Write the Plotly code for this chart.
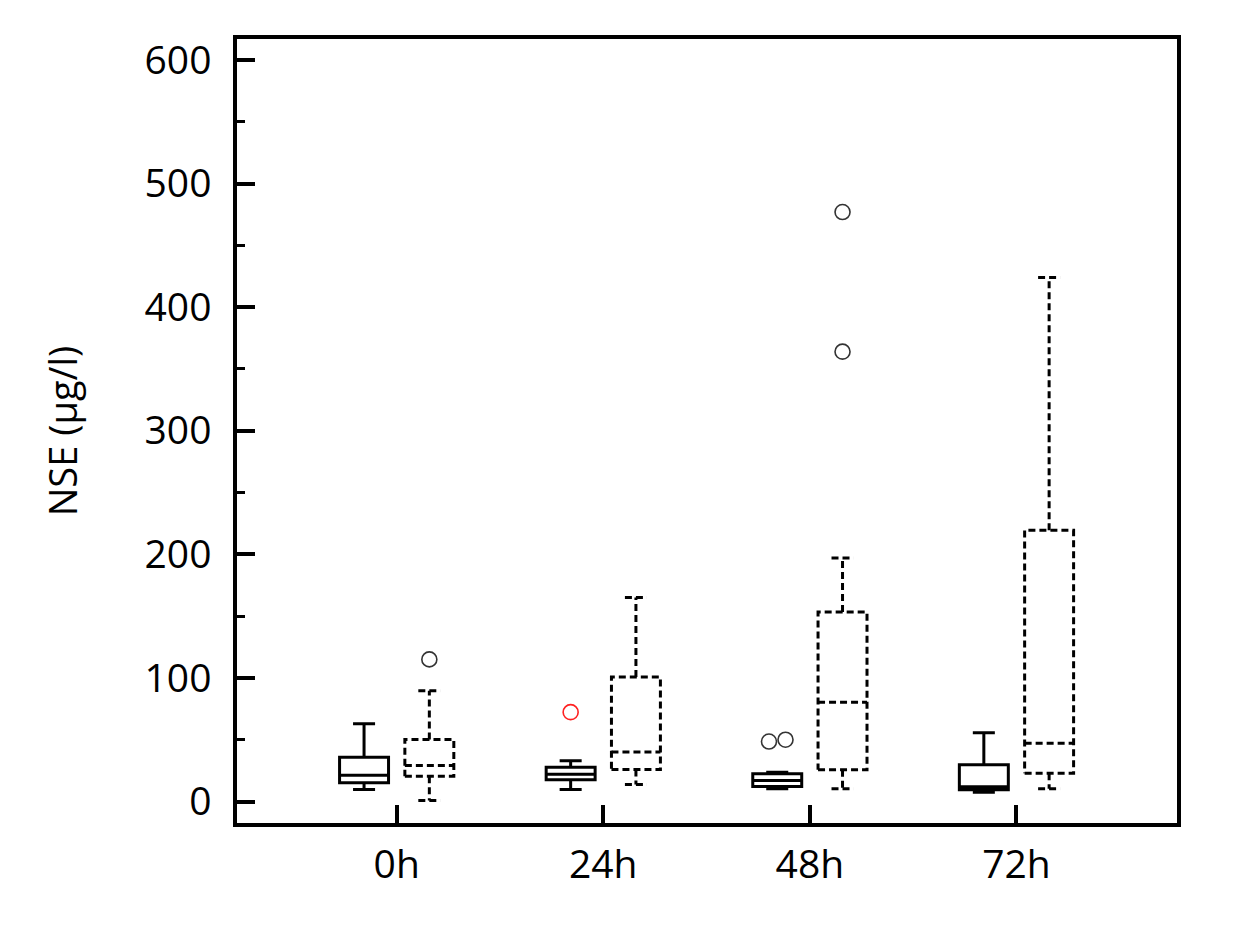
import plotly.graph_objects as go

categories = ["0h", "24h", "48h", "72h"]

# Group A (solid boxes)
a_lower = [9.7, 9.7, 10.3, 7.5]
a_q1 = [15.1, 17.6, 12.1, 9.5]
a_median = [21.3, 22.0, 17.0, 12.0]
a_q3 = [35.9, 27.8, 22.4, 29.7]
a_upper = [62.9, 33.0, 23.7, 55.6]

# Group B (dashed boxes)
b_lower = [0.8, 13.8, 10.3, 10.3]
b_q1 = [20.5, 25.9, 25.7, 22.9]
b_median = [29.1, 40.0, 80.4, 47.2]
b_q3 = [50.2, 100.7, 153.3, 219.4]
b_upper = [89.6, 165.0, 197.0, 424.0]

# Outliers: category index and value
a_out_cat = [1, 2, 2]
a_out_val = [72.3, 48.5, 50.0]
b_out_cat = [0, 2, 2]
b_out_val = [115.0, 477.0, 364.0]

# ---- styling / geometry ----
OFF = 0.158          # box offset from category centre
BW = 0.237           # box width (data units)
WW = 0.45            # whisker cap width fraction
a_out_shift = [0.0, -0.04, 0.04]
a_out_colors = ["#ff2020", "#333333", "#333333"]
FONT = "Open Sans"

idx = list(range(len(categories)))
a_pos = [i - OFF for i in idx]
b_pos = [i + OFF for i in idx]

fig = go.Figure()

# solid boxes
fig.add_trace(go.Box(
    x=a_pos, q1=a_q1, median=a_median, q3=a_q3,
    lowerfence=a_lower, upperfence=a_upper,
    width=BW, whiskerwidth=WW, boxpoints=False,
    line=dict(color="black", width=3), fillcolor="rgba(255,255,255,0)",
    hoverinfo="skip", showlegend=False,
))

# dashed boxes (drawn as dashed line paths built from the stats)
xs, ys = [], []
hw = BW / 2
cw = hw * WW
for p, lo, q1, md, q3, up in zip(b_pos, b_lower, b_q1, b_median, b_q3, b_upper):
    xs += [p - hw, p + hw, p + hw, p - hw, p - hw, None]
    ys += [q1, q1, q3, q3, q1, None]
    xs += [p - hw, p + hw, None]
    ys += [md, md, None]
    xs += [p, p, None, p - cw, p + cw, None]
    ys += [q3, up, None, up, up, None]
    xs += [p, p, None, p - cw, p + cw, None]
    ys += [q1, lo, None, lo, lo, None]
fig.add_trace(go.Scatter(
    x=xs, y=ys, mode="lines",
    line=dict(color="black", width=3, dash="7px,4px"),
    hoverinfo="skip", showlegend=False,
))

# outliers
fig.add_trace(go.Scatter(
    x=[c - OFF + s for c, s in zip(a_out_cat, a_out_shift)], y=a_out_val,
    mode="markers",
    marker=dict(symbol="circle-open", size=15, color=a_out_colors, line=dict(width=1.6)),
    hoverinfo="skip", showlegend=False,
))
fig.add_trace(go.Scatter(
    x=[c + OFF for c in b_out_cat], y=b_out_val,
    mode="markers",
    marker=dict(symbol="circle-open", size=15, color="#333333", line=dict(width=1.6)),
    hoverinfo="skip", showlegend=False,
))

fig.update_layout(
    width=1251, height=938,
    margin=dict(l=229, r=82, t=31, b=123),
    paper_bgcolor="white", plot_bgcolor="white",
    font=dict(family=FONT, color="black", size=39),
)
fig.update_xaxes(
    range=[-0.773, 3.777],
    tickmode="array", tickvals=idx, ticktext=categories,
    ticks="inside", ticklen=18, tickwidth=3.5, tickcolor="black",
    showline=True, linewidth=3.5, linecolor="black", mirror=True,
    showgrid=False, zeroline=False,
    tickfont=dict(size=39, family=FONT), ticklabelstandoff=4,
)
fig.update_yaxes(
    range=[-17.4, 617],
    tickmode="linear", tick0=0, dtick=100,
    ticks="inside", ticklen=18, tickwidth=3.5, tickcolor="black",
    minor=dict(ticks="inside", ticklen=8, tickwidth=2.5, tickcolor="black", dtick=50, tick0=0, showgrid=False),
    showline=True, linewidth=3.5, linecolor="black", mirror=True,
    showgrid=False, zeroline=False,
    tickfont=dict(size=39, family=FONT), ticklabelstandoff=14,
    title=dict(text="NSE (µg/l)", font=dict(size=38, family=FONT), standoff=56),
)

fig.write_html("out.html")
